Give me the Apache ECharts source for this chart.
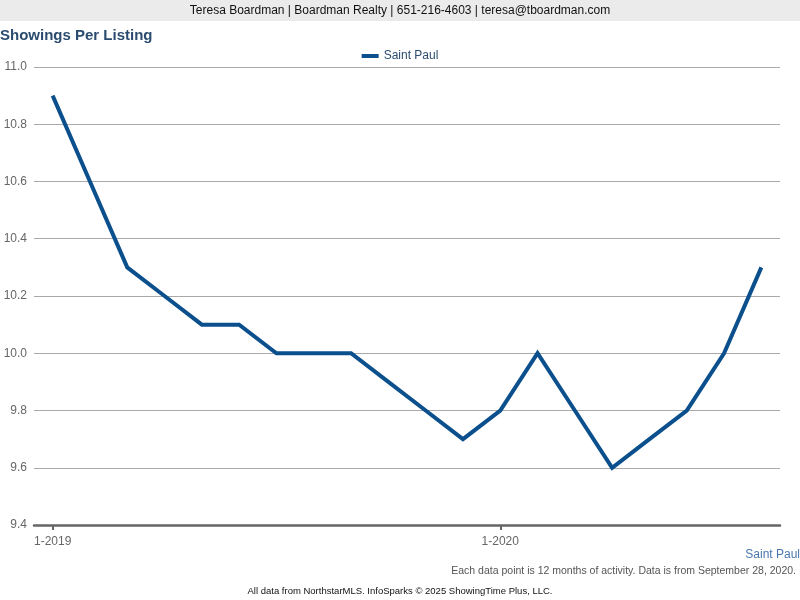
<!DOCTYPE html>
<html>
<head>
<meta charset="utf-8">
<style>html,body{margin:0;padding:0;background:#fff;}#c{width:800px;height:600px;}</style>
<script src="https://cdn.jsdelivr.net/npm/echarts@6/dist/echarts.min.js"></script>
</head>
<body>
<div id="c"></div>
<script>
const categories = ['1-2019','2-2019','3-2019','4-2019','5-2019','6-2019','7-2019','8-2019','9-2019','10-2019','11-2019','12-2019','1-2020','2-2020','3-2020','4-2020','5-2020','6-2020','7-2020','8-2020'];
const saintPaul = [10.9,10.6,10.3,10.2,10.1,10.1,10.0,10.0,10.0,9.9,9.8,9.7,9.8,10.0,9.8,9.6,9.7,9.8,10.0,10.3];
const yTicks = {min: 9.4, max: 11.0, interval: 0.2};
const seriesName = 'Saint Paul';

const font = '"Liberation Sans", Arial, sans-serif';
const chart = echarts.init(document.getElementById('c'), null, {renderer: 'canvas'});
chart.setOption({
  animation: false,
  backgroundColor: '#fff',
  textStyle: {fontFamily: font},
  grid: {left: 34, right: 20, top: 67, bottom: 75, containLabel: false},
  legend: {
    top: 45, left: 'center',
    data: [{name: seriesName, icon: 'rect'}],
    itemWidth: 17, itemHeight: 4, itemGap: 5,
    textStyle: {color: '#2b4c6f', fontSize: 12, fontFamily: font}
  },
  xAxis: {
    type: 'category',
    data: categories,
    boundaryGap: true,
    axisLine: {lineStyle: {color: '#666', width: 2.5}},
    axisTick: {show: true, alignWithLabel: true, interval: (i) => i % 12 === 0, length: 5, lineStyle: {color: '#666', width: 2}},
    axisLabel: {interval: (i) => i % 12 === 0, color: '#666', fontSize: 12, margin: 11, fontFamily: font},
    splitLine: {show: false}
  },
  yAxis: {
    type: 'value',
    min: yTicks.min, max: yTicks.max, interval: yTicks.interval,
    axisLine: {show: false},
    axisTick: {show: false},
    axisLabel: {formatter: (v) => v.toFixed(1), color: '#666', fontSize: 12, margin: 7, fontFamily: font, padding: [5, 0, 0, 0]},
    splitLine: {lineStyle: {color: '#aaa', width: 1}}
  },
  series: [{
    name: seriesName,
    type: 'line',
    data: saintPaul,
    symbol: 'none',
    lineStyle: {color: '#0b4f8c', width: 4, join: 'miter'},
    itemStyle: {color: '#0b4f8c'}
  }],
  graphic: [
    {type: 'rect', left: 0, top: 0, shape: {width: 800, height: 21}, style: {fill: '#ebebeb'}},
    {type: 'text', left: 'center', top: 5, style: {text: 'Teresa Boardman | Boardman Realty | 651-216-4603 | teresa@tboardman.com', fill: '#111', font: '12px ' + font}},
    {type: 'text', left: 0, top: 28, style: {text: 'Showings Per Listing', fill: '#2b4c6f', font: 'bold 15px ' + font}},
    {type: 'text', right: 0, top: 549, style: {text: 'Saint Paul', fill: '#4a78ad', font: '12px ' + font}},
    {type: 'text', right: 4, top: 566, style: {text: 'Each data point is 12 months of activity. Data is from September 28, 2020.', fill: '#555', font: '10.5px ' + font}},
    {type: 'text', left: 'center', top: 586, style: {text: 'All data from NorthstarMLS. InfoSparks © 2025 ShowingTime Plus, LLC.', fill: '#111', font: '9.5px ' + font}}
  ]
});
</script>
</body>
</html>
